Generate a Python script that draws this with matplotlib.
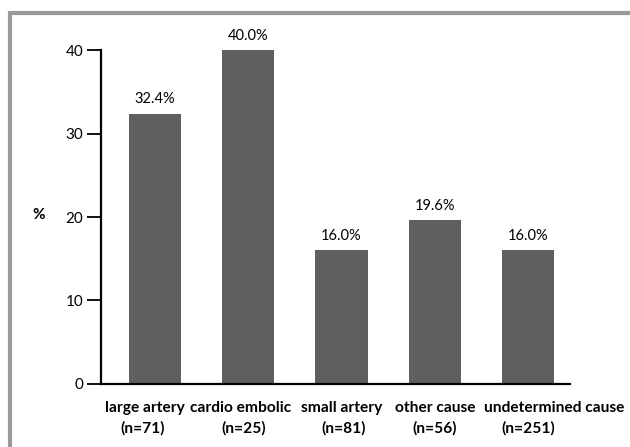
import matplotlib
matplotlib.use('Agg')
import matplotlib.pyplot as plt
from matplotlib.patches import Rectangle

# Datos
categorias = ['large artery', 'cardio embolic', 'small artery', 'other cause', 'undetermined cause']
n_casos = ['(n=71)', '(n=25)', '(n=81)', '(n=56)', '(n=251)']
porcentajes = [32.4, 40.0, 16.0, 19.6, 16.0]
etiquetas = ['32.4%', '40.0%', '16.0%', '19.6%', '16.0%']
ticks_y = [0, 10, 20, 30, 40]

# desplazamiento horizontal de los rotulos del eje x (como en el original)
desplaz_nombre = [-0.10, -0.08, 0.0, 0.0, 0.28]
desplaz_n = [-0.13, -0.05, 0.02, 0.0, 0.0]

plt.rcParams['font.family'] = ['Lato', 'DejaVu Sans']

fig = plt.figure(figsize=(6.3, 4.47), dpi=100)
ax = fig.add_axes([0.161, 0.141, 0.744, 0.747])

x = list(range(len(categorias)))
barras = ax.bar(x, porcentajes, width=0.56, color='#5f5f5f')
for b, txt in zip(barras, etiquetas):
    ax.text(b.get_x() + b.get_width() / 2, b.get_height() + 0.9, txt,
            ha='center', va='bottom', fontsize=10.5, clip_on=False)

ax.set_xlim(-0.57, 4.45)
ax.set_ylim(0, 40)
ax.set_yticks(ticks_y)
ax.set_xticks(x)
ax.set_xticklabels([])
ax.tick_params(axis='x', length=0)
ax.tick_params(axis='y', length=10, width=1.3, labelsize=11, pad=3)
for xi, d1, d2, cat, n in zip(x, desplaz_nombre, desplaz_n, categorias, n_casos):
    ax.annotate(cat, (xi + d1, 0), xycoords=('data', 'axes fraction'),
                xytext=(0, -12), textcoords='offset points',
                ha='center', va='top', fontsize=11.2, fontweight='bold',
                annotation_clip=False)
    ax.annotate(n, (xi + d2, 0), xycoords=('data', 'axes fraction'),
                xytext=(0, -26.5), textcoords='offset points',
                ha='center', va='top', fontsize=11.2, fontweight='bold',
                annotation_clip=False)
for lado in ['top', 'right']:
    ax.spines[lado].set_visible(False)
ax.spines['left'].set_linewidth(1.6)
ax.spines['bottom'].set_linewidth(1.6)

fig.text(32 / 630, 1 - 215 / 447, '%', fontsize=11, fontweight='bold', ha='left', va='center')

# marco gris exterior
fig.patches.append(Rectangle((10 / 630, -0.1), 1.2, 1 - 13 / 447 + 0.1,
                             transform=fig.transFigure, fill=False,
                             edgecolor='#9a9a9a', linewidth=3))

fig.savefig('out.png', dpi=100)
